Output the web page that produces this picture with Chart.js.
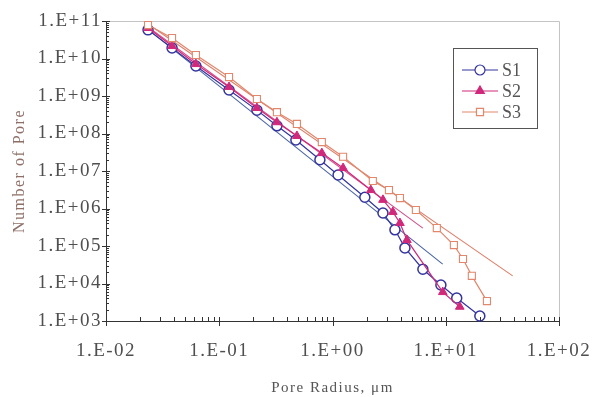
<!DOCTYPE html>
<html>
<head>
<meta charset="utf-8">
<script src="https://cdn.jsdelivr.net/npm/chart.js@4.4.1/dist/chart.umd.min.js"></script>
<style>
  body { margin: 0; background: #fff; }
  #wrap { width: 610px; height: 397px; }
</style>
</head>
<body>
<div id="wrap"><canvas id="myChart"></canvas></div>
<script>
// axis ticks
var xTickValues = [0.01, 0.1, 1, 10, 100];
var xTickLabels = ['1.E-02', '1.E-01', '1.E+00', '1.E+01', '1.E+02'];
var yTickValues = [1e3, 1e4, 1e5, 1e6, 1e7, 1e8, 1e9, 1e10, 1e11];
var yTickLabels = ['1.E+03', '1.E+04', '1.E+05', '1.E+06', '1.E+07', '1.E+08', '1.E+09', '1.E+10', '1.E+11'];

// S1
var s1X = [0.0235, 0.0383, 0.0622, 0.122, 0.215, 0.323, 0.475, 0.774, 1.12, 1.93, 2.79, 3.56, 4.36, 6.28, 9.06, 12.5, 20.0];
var s1Y = [5.8e10, 1.9e10, 6.3e9, 1.45e9, 4.2e8, 1.6e8, 6.7e7, 2.0e7, 7.8e6, 2.0e6, 7.6e5, 2.7e5, 8.9e4, 2.4e4, 9.1e3, 4.1e3, 1.36e3];
// S2
var s2X = [0.0235, 0.0383, 0.0622, 0.122, 0.215, 0.323, 0.485, 0.805, 1.24, 2.18, 2.79, 3.41, 3.94, 4.54, 9.42, 13.3];
var s2Y = [6.5e10, 2.15e10, 7.1e9, 1.74e9, 4.8e8, 2.0e8, 8.6e7, 3.0e7, 1.2e7, 3.1e6, 1.7e6, 8.1e5, 4.1e5, 1.45e5, 5.9e3, 2.4e3];
// S3
var s3X = [0.0235, 0.0383, 0.0622, 0.122, 0.215, 0.323, 0.485, 0.805, 1.24, 2.27, 3.15, 3.94, 5.45, 8.34, 11.8, 14.2, 17.0, 23.1];
var s3Y = [7.8e10, 3.5e10, 1.24e10, 3.2e9, 8.3e8, 3.7e8, 1.8e8, 5.9e7, 2.4e7, 5.4e6, 3.1e6, 1.9e6, 9.1e5, 3.0e5, 1.06e5, 4.5e4, 1.6e4, 3.4e3];

// power law fit lines (end points)
var fit1X = [0.0235, 9.4];
var fit1Y = [6.0e10, 3.3e4];
var fit2X = [0.0235, 6.28];
var fit2Y = [6.9e10, 3.0e5];
var fit3X = [0.0235, 39];
var fit3Y = [8.3e10, 1.6e4];

var seriesNames = ['S1', 'S2', 'S3'];

function pts(xs, ys) {
  var out = [];
  for (var i = 0; i < xs.length; i++) {
    out.push({ x: xs[i], y: ys[i] });
  }
  return out;
}

var blue = '#34349e';
var magenta = '#d0287a';
var orange = '#e2876c';

var frameAndTicks = {
  id: 'frameAndTicks',
  beforeDraw: function (chart) {
    // scanned text in the original is wide
    chart.ctx.letterSpacing = '1.5px';
  },
  beforeDatasetsDraw: function (chart) {
    var a = chart.chartArea;
    var ctx = chart.ctx;
    ctx.save();
    ctx.strokeStyle = '#c4c4c4';
    ctx.lineWidth = 1;
    ctx.beginPath();
    ctx.moveTo(a.left, a.top + 0.5);
    ctx.lineTo(a.right + 0.5, a.top + 0.5);
    ctx.lineTo(a.right + 0.5, a.bottom);
    ctx.stroke();
    ctx.restore();
  },
  afterDraw: function (chart) {
    var ctx = chart.ctx;
    var a = chart.chartArea;
    var xs = chart.scales.x;
    var ys = chart.scales.y;
    var i, m, p;
    ctx.save();
    ctx.strokeStyle = '#333';
    ctx.lineWidth = 1;
    ctx.beginPath();
    // y ticks
    for (i = 0; i < yTickValues.length; i++) {
      p = Math.round(ys.getPixelForValue(yTickValues[i])) + 0.5;
      ctx.moveTo(a.left - 4, p);
      ctx.lineTo(a.left + 4, p);
      if (i < yTickValues.length - 1) {
        for (m = 2; m < 10; m++) {
          p = Math.round(ys.getPixelForValue(yTickValues[i] * m)) + 0.5;
          ctx.moveTo(a.left, p);
          ctx.lineTo(a.left + 3, p);
        }
      }
    }
    // x ticks
    for (i = 0; i < xTickValues.length; i++) {
      p = Math.round(xs.getPixelForValue(xTickValues[i])) + 0.5;
      ctx.moveTo(p, a.bottom - 4);
      ctx.lineTo(p, a.bottom + 5);
      if (i < xTickValues.length - 1) {
        for (m = 2; m < 10; m++) {
          p = Math.round(xs.getPixelForValue(xTickValues[i] * m)) + 0.5;
          ctx.moveTo(p, a.bottom);
          ctx.lineTo(p, a.bottom - 4);
        }
      }
    }
    ctx.stroke();

    // legend box
    var bx = 453, by = 48, bw = 84, bh = 80;
    ctx.strokeStyle = '#555';
    ctx.strokeRect(bx + 0.5, by + 0.5, bw, bh);
    var styles = [chart.data.datasets[0], chart.data.datasets[2], chart.data.datasets[4]];
    ctx.font = '18px "Liberation Serif"';
    ctx.letterSpacing = '0px';
    ctx.textBaseline = 'middle';
    for (i = 0; i < 3; i++) {
      var ry = by + 22 + i * 21;
      var d = styles[i];
      ctx.strokeStyle = d.borderColor;
      ctx.lineWidth = 1.2;
      ctx.beginPath();
      ctx.moveTo(bx + 9, ry);
      ctx.lineTo(bx + 45, ry);
      ctx.stroke();
      ctx.fillStyle = d.pointBackgroundColor;
      ctx.strokeStyle = d.pointBorderColor;
      Chart.helpers.drawPoint(ctx, {
        pointStyle: d.pointStyle,
        radius: d.pointRadius,
        rotation: 0,
        borderWidth: d.pointBorderWidth
      }, bx + 27, ry);
      ctx.fillStyle = '#555';
      ctx.fillText(seriesNames[i], bx + 49, ry + 1);
    }
    ctx.restore();
  }
};

var ctx = document.getElementById('myChart').getContext('2d');
var myChart = new Chart(ctx, {
  type: 'scatter',
  data: {
    datasets: [
      {
        label: 'S1', data: pts(s1X, s1Y), showLine: true,
        borderColor: blue, borderWidth: 1.2,
        pointStyle: 'circle', pointRadius: 5, pointBorderWidth: 1.5,
        pointBorderColor: blue, pointBackgroundColor: '#fff', clip: 8, order: 3
      },
      {
        label: 'S1 fit', data: pts(fit1X, fit1Y), showLine: true,
        borderColor: '#4a64a4', borderWidth: 1.1, pointRadius: 0, order: 6
      },
      {
        label: 'S2', data: pts(s2X, s2Y), showLine: true,
        borderColor: magenta, borderWidth: 1.2,
        pointStyle: 'triangle', pointRadius: 5, pointBorderWidth: 1,
        pointBorderColor: magenta, pointBackgroundColor: magenta, clip: 8, order: 2
      },
      {
        label: 'S2 fit', data: pts(fit2X, fit2Y), showLine: true,
        borderColor: '#d0508c', borderWidth: 1.1, pointRadius: 0, order: 5
      },
      {
        label: 'S3', data: pts(s3X, s3Y), showLine: true,
        borderColor: orange, borderWidth: 1.2,
        pointStyle: 'rect', pointRadius: 5, pointBorderWidth: 1.1,
        pointBorderColor: orange, pointBackgroundColor: '#fff', clip: 8, order: 1
      },
      {
        label: 'S3 fit', data: pts(fit3X, fit3Y), showLine: true,
        borderColor: '#de7f6a', borderWidth: 1.1, pointRadius: 0, order: 4
      }
    ]
  },
  options: {
    responsive: true,
    maintainAspectRatio: false,
    animation: false,
    layout: { padding: { top: 21, right: 51, left: 10, bottom: 0 } },
    plugins: {
      legend: { display: false },
      tooltip: { enabled: false }
    },
    scales: {
      x: {
        type: 'logarithmic',
        min: 0.01,
        max: 100,
        grid: { display: false, drawTicks: false },
        border: { display: true, color: '#333', width: 1 },
        afterBuildTicks: function (scale) {
          scale.ticks = xTickValues.map(function (v) { return { value: v }; });
        },
        afterFit: function (scale) { scale.height = 76; },
        ticks: {
          autoSkip: false,
          maxRotation: 0,
          padding: 19,
          color: '#4f4f4f',
          font: { family: 'Liberation Serif', size: 19 },
          callback: function (value, index) { return xTickLabels[index]; }
        },
        title: {
          display: true,
          text: 'Pore Radius, μm',
          color: '#555',
          font: { family: 'Liberation Serif', size: 15 },
          padding: 0
        }
      },
      y: {
        type: 'logarithmic',
        min: 1e3,
        max: 1e11,
        grid: { display: false, drawTicks: false },
        border: { display: true, color: '#333', width: 1 },
        afterBuildTicks: function (scale) {
          scale.ticks = yTickValues.map(function (v) { return { value: v }; });
        },
        afterFit: function (scale) { scale.width = 96; },
        ticks: {
          autoSkip: false,
          padding: 4,
          color: '#4f4f4f',
          font: { family: 'Liberation Serif', size: 19 },
          callback: function (value, index) { return yTickLabels[index]; }
        },
        title: {
          display: true,
          text: 'Number of Pore',
          color: '#8e6f68',
          font: { family: 'Liberation Serif', size: 16 },
          padding: 0
        }
      }
    }
  },
  plugins: [frameAndTicks]
});
</script>
</body>
</html>
